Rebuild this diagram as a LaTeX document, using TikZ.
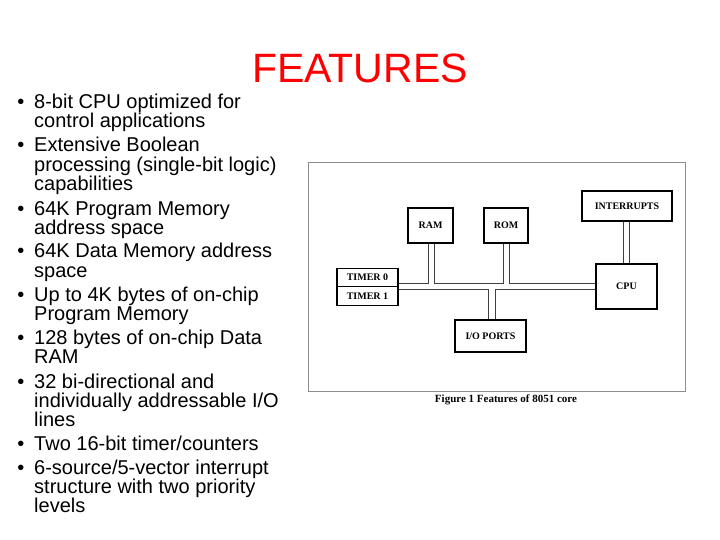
\documentclass[tikz,border=0pt]{standalone}
\usepackage{fontspec}
\setmainfont{Liberation Sans}
\newfontfamily\tms{Liberation Serif}
\begin{document}
\begin{tikzpicture}[x=1pt,y=-1pt,
  txt/.style={anchor=base west,inner sep=0pt,font=\fontsize{20}{20}\selectfont},
  bul/.style={anchor=base,inner sep=0pt,font=\fontsize{20}{20}\selectfont},
  box/.style={draw,line width=1.2pt,inner sep=0pt,font=\tms\bfseries\fontsize{10}{10}\selectfont},
  bus/.style={line width=0.6pt,draw=black!75}]
\useasboundingbox[fill=white] (0,0) rectangle (720,540);
\node[anchor=center,text=red,font=\fontsize{41}{41}\selectfont] (title) at (360,68) {FEATURES};
\foreach \y/\b/\t [count=\i] in {
 102/1/{8-bit CPU optimized for}, 121/0/{control applications},
 145/1/{Extensive Boolean}, 165/0/{processing (single-bit logic)}, 184/0/{capabilities},
 208/1/{64K Program Memory}, 227/0/{address space},
 251/1/{64K Data Memory address}, 270/0/{space},
 294/1/{Up to 4K bytes of on-chip}, 313/0/{Program Memory},
 337/1/{128 bytes of on-chip Data}, 356/0/{RAM},
 381/1/{32 bi-directional and}, 400/0/{individually addressable I/O}, 419/0/{lines},
 443/1/{Two 16-bit timer/counters},
 467/1/{6-source/5-vector interrupt}, 486/0/{structure with two priority}, 505/0/{levels}}{
  \node[txt] (l\i) at (34,\y+7) {\t};
  \ifnum\b=1 \node[bul] (b\i) at (21,\y+7) {\textbullet}; \fi
}
\node[draw=black!45,line width=0.8pt,minimum width=377pt,minimum height=229pt,inner sep=0pt] (frame) at (496.5,276.5) {};
\node[box,minimum width=90pt,minimum height=30pt] (int) at (627,206) {INTERRUPTS};
\node[box,minimum width=45pt,minimum height=35pt] (ram) at (430.5,225.5) {RAM};
\node[box,minimum width=44pt,minimum height=35pt] (rom) at (506,225.5) {ROM};
\node[box,minimum width=61pt,minimum height=18.5pt] (t0) at (367.5,277.5) {TIMER 0};
\node[box,minimum width=61pt,minimum height=18.5pt] (t1) at (367.5,296) {TIMER 1};
\node[box,minimum width=61pt,minimum height=45pt] (cpu) at (626.5,286.5) {CPU};
\node[box,minimum width=71pt,minimum height=32pt] (io) at (490.5,336) {I/O PORTS};
\node[font=\tms\bfseries\fontsize{11}{11}\selectfont] (cap) at (506,400) {Figure 1 Features of 8051 core};
\coordinate (a1) at (428,283); \coordinate (a2) at (434,283);
\coordinate (o1) at (503,283); \coordinate (o2) at (509,283);
\coordinate (c1) at (488,289); \coordinate (c2) at (495,289);
\draw[bus] (t0.east |- a1) -- (a1) -- (a1 |- ram.south);
\draw[bus] (ram.south -| a2) -- (a2) -- (o1) -- (o1 |- rom.south);
\draw[bus] (rom.south -| o2) -- (o2) -- (cpu.west |- o2);
\draw[bus] (t1.east |- c1) -- (c1) -- (c1 |- io.north);
\draw[bus] (io.north -| c2) -- (c2) -- (cpu.west |- c2);
\draw[bus] (int.south -| 623,0) -- (cpu.north -| 623,0);
\draw[bus] (int.south -| 629,0) -- (cpu.north -| 629,0);
\end{tikzpicture}
\end{document}
